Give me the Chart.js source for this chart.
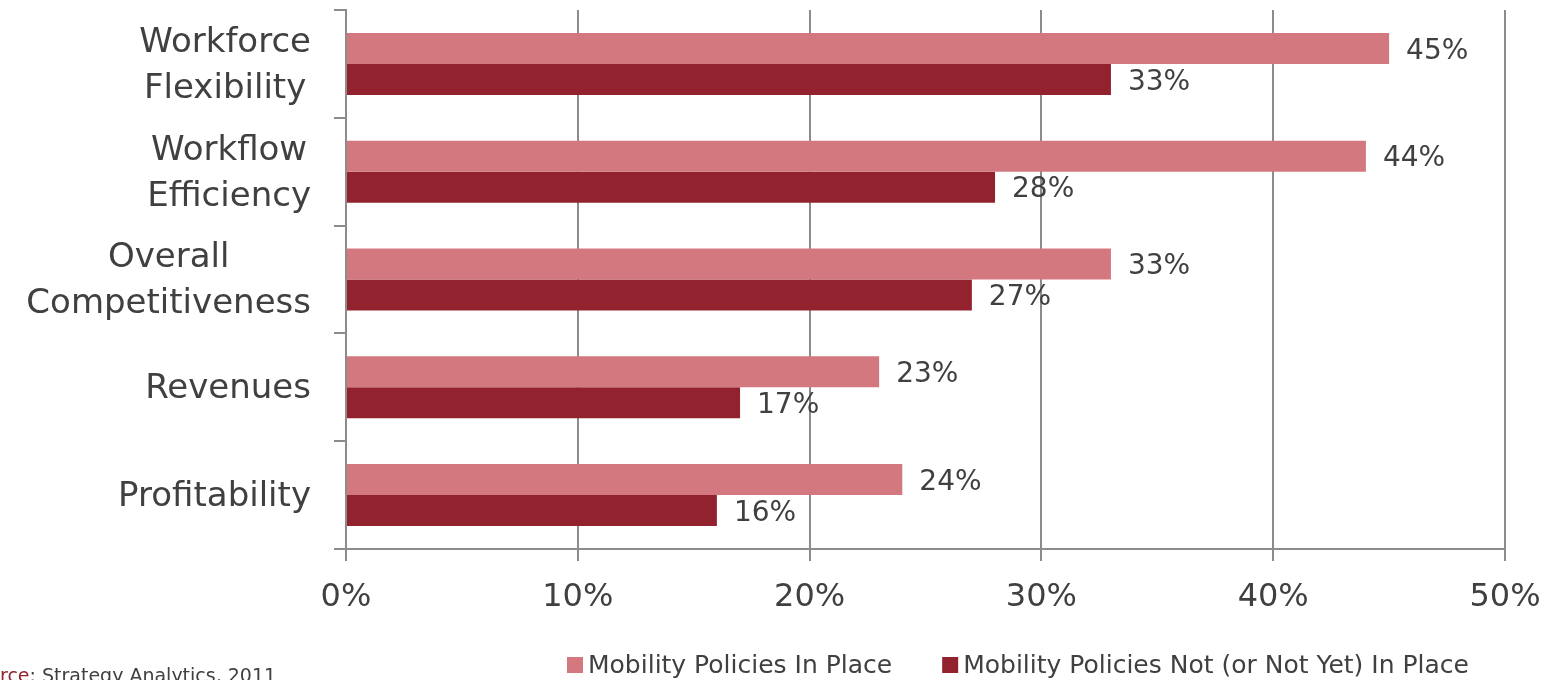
<!DOCTYPE html>
<html>
<head>
<meta charset="utf-8">
<script src="https://cdn.jsdelivr.net/npm/chart.js@4"></script>
<style>
  html, body { margin: 0; padding: 0; background: #fff; }
  #wrap { position: relative; width: 1545px; height: 680px; }
</style>
</head>
<body>
<div id="wrap"><canvas id="chart" width="1545" height="680"></canvas></div>
<script>
// data
const categories = [
  ["Workforce", "Flexibility"],
  ["Workflow", "Efficiency"],
  ["Overall", "Competitiveness"],
  ["Revenues"],
  ["Profitability"]
];
const seriesNames = ["Mobility Policies In Place", "Mobility Policies Not (or Not Yet) In Place"];
const inPlace = [45, 44, 33, 23, 24];
const notInPlace = [33, 28, 27, 17, 16];
const xTicks = [0, 10, 20, 30, 40, 50];
const sourceLabel = "Source";
const sourceText = ": Strategy Analytics, 2011";

const FONT = "'DejaVu Sans', sans-serif";
const TEXT = "#404040";
const GRID = "#8c8c8c";
const colors = ["#d47880", "#93222f"];

// y labels: each block of lines is centred on itself, block right aligned
const categoryLabels = {
  id: "categoryLabels",
  afterDraw(chart) {
    const ctx = chart.ctx;
    const y = chart.scales.y;
    ctx.save();
    ctx.font = "34px " + FONT;
    ctx.fillStyle = TEXT;
    ctx.textAlign = "center";
    ctx.textBaseline = "middle";
    categories.forEach((lines, i) => {
      const cy = y.getPixelForValue(i);
      const w = Math.max(...lines.map(l => ctx.measureText(l).width));
      const cx = 311 - w / 2;
      const lh = 46;
      const top = cy - (lines.length - 1) * lh / 2;
      lines.forEach((l, k) => ctx.fillText(l, cx, top + k * lh + 2));
    });
    ctx.restore();
  }
};

// value labels right of each bar
const valueLabels = {
  id: "valueLabels",
  afterDatasetsDraw(chart) {
    const ctx = chart.ctx;
    ctx.save();
    ctx.font = "28px " + FONT;
    ctx.fillStyle = TEXT;
    ctx.textAlign = "left";
    ctx.textBaseline = "middle";
    chart.data.datasets.forEach((ds, di) => {
      chart.getDatasetMeta(di).data.forEach((bar, i) => {
        ctx.fillText(ds.data[i] + "%", bar.x + 17, bar.y + 3);
      });
    });
    ctx.restore();
  }
};

// legend + source note along the bottom
const footer = {
  id: "footer",
  afterDraw(chart) {
    const ctx = chart.ctx;
    ctx.save();
    ctx.font = "25px " + FONT;
    ctx.textBaseline = "middle";
    ctx.textAlign = "left";
    let x = 567;
    chart.data.datasets.forEach((ds, i) => {
      ctx.fillStyle = ds.backgroundColor;
      ctx.fillRect(x, 657, 16, 16);
      ctx.fillStyle = TEXT;
      ctx.fillText(ds.label, x + 21, 666);
      x += 21 + ctx.measureText(ds.label).width + 50;
    });

    ctx.font = "19px " + FONT;
    ctx.textBaseline = "alphabetic";
    const sx = -ctx.measureText("Sou").width;
    ctx.fillStyle = "#93222f";
    ctx.fillText(sourceLabel, sx, 682);
    ctx.fillStyle = TEXT;
    ctx.fillText(sourceText, sx + ctx.measureText(sourceLabel).width, 682);
    ctx.restore();
  }
};

new Chart(document.getElementById("chart"), {
  type: "bar",
  data: {
    labels: categories,
    datasets: [
      { label: seriesNames[0], data: inPlace, backgroundColor: colors[0] },
      { label: seriesNames[1], data: notInPlace, backgroundColor: colors[1] }
    ]
  },
  options: {
    indexAxis: "y",
    responsive: false,
    animation: false,
    layout: { padding: { top: 10, right: 40, bottom: 60, left: 0 } },
    datasets: { bar: { categoryPercentage: 0.575, barPercentage: 1, borderWidth: 0 } },
    plugins: { legend: { display: false }, tooltip: { enabled: false } },
    scales: {
      x: {
        min: 0,
        max: 50,
        afterBuildTicks: (s) => { s.ticks = xTicks.map(v => ({ value: v })); },
        afterFit: (s) => { s.height = 71; s.paddingLeft = 0; s.paddingRight = 0; },
        grid: { color: GRID, lineWidth: 2, tickLength: 12 },
        border: { color: GRID, width: 2 },
        ticks: {
          padding: 17,
          color: TEXT,
          font: { family: FONT, size: 32 },
          callback: (v) => v + "%"
        }
      },
      y: {
        afterFit: (s) => { s.width = 346; },
        grid: { drawOnChartArea: false, color: GRID, lineWidth: 2, tickLength: 12, offset: true },
        border: { color: GRID, width: 2 },
        ticks: { display: false }
      }
    }
  },
  plugins: [categoryLabels, valueLabels, footer]
});
</script>
</body>
</html>
